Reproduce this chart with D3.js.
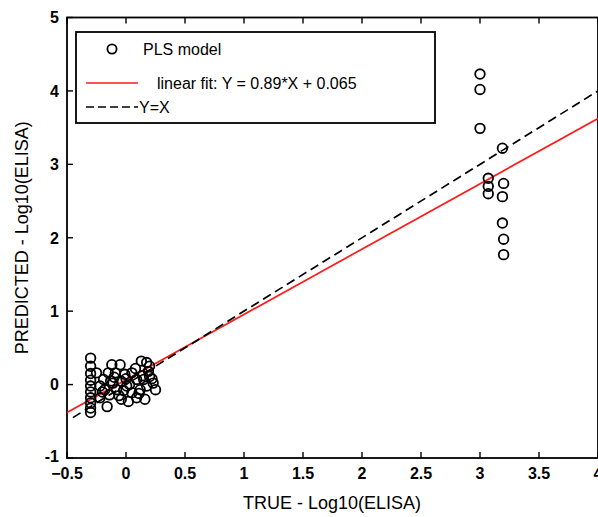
<!DOCTYPE html>
<html>
<head>
<meta charset="utf-8">
<script src="https://cdn.jsdelivr.net/npm/d3@7"></script>
<style>
  body { margin: 0; background: #fff; }
  svg { display: block; font-family: "Liberation Sans", Arial, sans-serif; }
</style>
</head>
<body>
<div id="chart"></div>
<script>
const width = 598;
const height = 517;

// PLS model points: true vs predicted log10(ELISA)
const lowTrue = [-0.3, -0.3, -0.3, -0.3, -0.3, -0.3, -0.3, -0.3, -0.3, -0.3,
  -0.12, -0.05, 0.13, 0.175, -0.19, -0.15, -0.09, -0.01, 0.05, 0.09,
  0.2, 0.23, 0.25, -0.18, -0.14, -0.08, 0.006, 0.05, 0.09, 0.16,
  0.12, 0.175, -0.16, 0.02, -0.04, -0.22, -0.22, -0.11, -0.04, 0.15,
  0.19, -0.25, 0.0, 0.08, -0.1, 0.11, -0.02, 0.2, -0.2, 0.03,
  0.14, -0.06, 0.22, -0.13];
const lowPred = [0.36, 0.25, 0.15, 0.06, -0.02, -0.1, -0.18, -0.25, -0.32, -0.38,
  0.27, 0.27, 0.32, 0.3, 0.07, 0.16, 0.16, 0.14, 0.16, 0.07,
  0.11, 0.02, -0.07, -0.07, -0.14, -0.07, -0.02, -0.11, -0.18, -0.2,
  -0.07, -0.02, -0.3, -0.23, -0.2, -0.18, -0.02, 0.02, 0.045, 0.07,
  0.18, 0.16, 0.08, 0.22, 0.1, -0.12, -0.08, 0.25, -0.1, 0.0,
  0.12, -0.15, 0.08, 0.05];
const highTrue = [3.0, 3.0, 3.0, 3.19, 3.07, 3.07, 3.07, 3.2, 3.19, 3.19, 3.2, 3.2];
const highPred = [4.23, 4.02, 3.49, 3.22, 2.81, 2.7, 2.6, 2.74, 2.56, 2.2, 1.98, 1.77];

const fitSlope = 0.89;
const fitIntercept = 0.065;
const fitRange = [-0.5, 4];
const identityRange = [-0.45, 4];

const xTicks = [-0.5, 0, 0.5, 1, 1.5, 2, 2.5, 3, 3.5, 4];
const yTicks = [-1, 0, 1, 2, 3, 4, 5];

const legendLabels = ["PLS model", "linear fit: Y = 0.89*X + 0.065", "Y=X"];

const points = lowTrue.map((t, i) => ({ t, p: lowPred[i] }))
  .concat(highTrue.map((t, i) => ({ t, p: highPred[i] })));

const x = d3.scaleLinear().domain([-0.5, 4]).range([67, 598]);
const y = d3.scaleLinear().domain([-1, 5]).range([458, 17.5]);

const svg = d3.select("#chart").append("svg")
  .attr("width", width).attr("height", height);

// frame
svg.append("rect")
  .attr("x", x(-0.5)).attr("y", y(5))
  .attr("width", x(4) - x(-0.5)).attr("height", y(-1) - y(5))
  .attr("fill", "none").attr("stroke", "#000").attr("stroke-width", 1.8);

// inward ticks on all four sides
const tickLen = 6;
xTicks.forEach(v => {
  svg.append("line").attr("x1", x(v)).attr("x2", x(v))
    .attr("y1", y(-1)).attr("y2", y(-1) - tickLen)
    .attr("stroke", "#000").attr("stroke-width", 1.4);
  svg.append("line").attr("x1", x(v)).attr("x2", x(v))
    .attr("y1", y(5)).attr("y2", y(5) + tickLen)
    .attr("stroke", "#000").attr("stroke-width", 1.4);
});
yTicks.forEach(v => {
  svg.append("line").attr("x1", x(-0.5)).attr("x2", x(-0.5) + tickLen)
    .attr("y1", y(v)).attr("y2", y(v))
    .attr("stroke", "#000").attr("stroke-width", 1.4);
});

svg.append("g").selectAll("text").data(xTicks).join("text")
  .attr("x", d => x(d)).attr("y", 479)
  .attr("text-anchor", "middle")
  .attr("font-size", 16).attr("font-weight", "bold")
  .text(d => d3.format("")(d));

svg.append("g").selectAll("text").data(yTicks).join("text")
  .attr("x", 59).attr("y", d => y(d) - (d === -1 ? 2 : 0)).attr("dy", "0.36em")
  .attr("text-anchor", "end")
  .attr("font-size", 16).attr("font-weight", "bold")
  .text(d => d);

svg.append("text")
  .attr("x", 332).attr("y", 509)
  .attr("text-anchor", "middle").attr("font-size", 18)
  .text("TRUE - Log10(ELISA)");

svg.append("text")
  .attr("transform", `translate(28,${(y(-1) + y(5)) / 2}) rotate(-90)`)
  .attr("text-anchor", "middle").attr("font-size", 18)
  .text("PREDICTED - Log10(ELISA)");

// lines
const line = d3.line().x(d => x(d[0])).y(d => y(d[1]));
svg.append("path")
  .attr("d", line(fitRange.map(v => [v, fitSlope * v + fitIntercept])))
  .attr("stroke", "#ff1a1a").attr("stroke-width", 1.7).attr("fill", "none");
svg.append("path")
  .attr("d", line(identityRange.map(v => [v, v])))
  .attr("stroke", "#000").attr("stroke-width", 1.7)
  .attr("stroke-dasharray", "9,5").attr("fill", "none");

// points
svg.append("g").selectAll("circle").data(points).join("circle")
  .attr("cx", d => x(d.t)).attr("cy", d => y(d.p)).attr("r", 4.8)
  .attr("fill", "none").attr("stroke", "#000").attr("stroke-width", 1.8);

// legend
const lg = svg.append("g");
lg.append("rect").attr("x", 76).attr("y", 32).attr("width", 359).attr("height", 91)
  .attr("fill", "#fff").attr("stroke", "#000").attr("stroke-width", 1.8);
lg.append("circle").attr("cx", 112).attr("cy", 49).attr("r", 4.6)
  .attr("fill", "none").attr("stroke", "#000").attr("stroke-width", 1.8);
lg.append("line").attr("x1", 86).attr("x2", 138).attr("y1", 83).attr("y2", 83)
  .attr("stroke", "#ff1a1a").attr("stroke-width", 1.7);
lg.append("line").attr("x1", 86).attr("x2", 138).attr("y1", 107).attr("y2", 107)
  .attr("stroke", "#000").attr("stroke-width", 1.7).attr("stroke-dasharray", "8,4");
lg.selectAll("text").data(legendLabels).join("text")
  .attr("x", (d, i) => [143, 157, 139][i])
  .attr("y", (d, i) => [49, 83, 107][i]).attr("dy", "0.36em")
  .attr("font-size", 16)
  .text(d => d);
</script>
</body>
</html>
